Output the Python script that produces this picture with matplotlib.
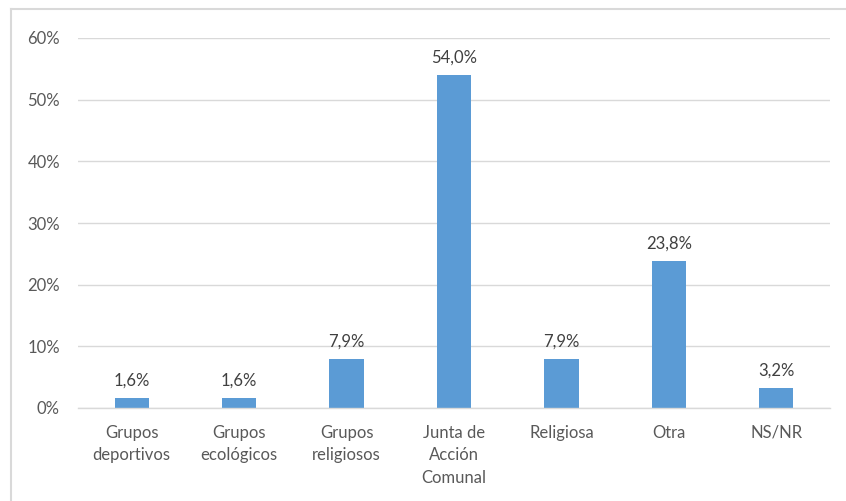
import matplotlib
matplotlib.use("Agg")
import matplotlib.pyplot as plt
from matplotlib.lines import Line2D

categories = ["Grupos\ndeportivos", "Grupos\necológicos", "Grupos\nreligiosos",
              "Junta de\nAcción\nComunal", "Religiosa", "Otra", "NS/NR"]
values = [1.6, 1.6, 7.9, 54.0, 7.9, 23.8, 3.2]
yticks = [0, 10, 20, 30, 40, 50, 60]

plt.rcParams['font.family'] = ['Lato', 'DejaVu Sans']
txt = '#595959'
fs = 12
fig = plt.figure(figsize=(8.46, 5.01), dpi=100)
ax = fig.add_axes([78/846, 1-408/501, (830-78)/846, (408-38)/501])

x = list(range(len(categories)))
ax.bar(x, values, width=0.32, color='#5B9BD5', zorder=3)
for xi, v in zip(x, values):
    ax.annotate(f"{v:.1f}%".replace('.', ','), (xi, v), xytext=(0, 7),
                textcoords='offset points', ha='center', va='bottom',
                fontsize=fs, color='#404040')

ax.set_ylim(0, 60)
ax.set_xlim(-0.5, len(categories) - 0.5)
ax.set_yticks(yticks)
ax.set_yticklabels([f"{t}%" for t in yticks])
ax.set_xticks(x)
ax.set_xticklabels(categories, linespacing=1.5)
ax.tick_params(axis='both', length=0, labelsize=fs, labelcolor=txt)
ax.tick_params(axis='y', pad=13)
ax.tick_params(axis='x', pad=12)
ax.grid(axis='y', color='#D9D9D9', linewidth=1, zorder=0)
for s in ['top', 'right', 'left']:
    ax.spines[s].set_visible(False)
ax.spines['bottom'].set_color('#D9D9D9')
ax.spines['bottom'].set_linewidth(1)
ax.spines['bottom'].set_zorder(4)

fig.add_artist(Line2D([11/846, 11/846], [0, 1-9/501], transform=fig.transFigure,
                      color='#D9D9D9', linewidth=1.5))
fig.add_artist(Line2D([11/846, 1], [1-9/501, 1-9/501], transform=fig.transFigure,
                      color='#D9D9D9', linewidth=1.5))

fig.savefig("out.png", dpi=100)
